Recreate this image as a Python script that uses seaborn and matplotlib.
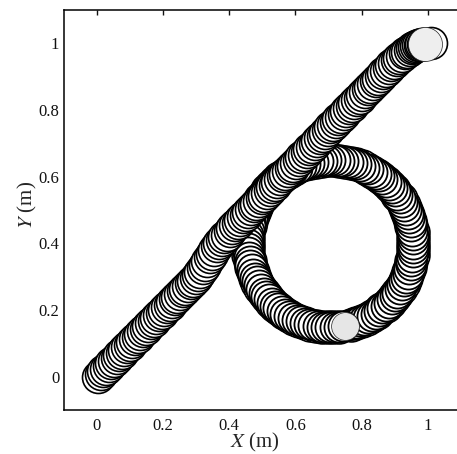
import matplotlib
matplotlib.use('Agg')
from matplotlib import pyplot as plt
import seaborn as sns

# earlier pass round the ring, only its edges show
under_x = [.767,.783,.800,.816,.831,.846,.860,.873,.886,.897,.908,.918,.927,.934,.941,.946,.950,.954,.955,.956,
           .955,.954,.950,.946,.941,.934,.927,.918,.908,.897,.886,.873,.860,.846,.831,.816,.800,.783,.767,.749,.732,.715,
           .697,.680,.663,.645,.629,.612,.596,.581,.566,.552,.539,.526,.515,.504,.494,.485,.478,.471,.466,.462,.458,.457,.456,
           .457,.458,.462,.466,.471,.478,.485,.494,.504,.515,.526,.539,.552,.566,.581,.596,.612,.629,.645,.663,.680,.697,.715,.732]
under_y = [.156,.161,.167,.174,.183,.192,.202,.213,.225,.238,.252,.267,.282,.297,.313,.330,.347,.364,.382,.399,
           .416,.434,.451,.468,.484,.501,.516,.532,.546,.560,.573,.585,.596,.606,.615,.624,.631,.637,.642,.645,.648,.649,
           .649,.648,.645,.642,.637,.631,.624,.615,.606,.596,.585,.573,.560,.546,.532,.516,.501,.484,.468,.451,.434,.416,.399,
           .382,.364,.347,.330,.313,.297,.282,.267,.252,.238,.225,.213,.202,.192,.183,.174,.167,.161,.156,.153,.150,.149,.149,.150]

# second body, loop around the ring
ring_x = [.758,.771,.783,.796,.808,.820,.831,.842,.853,.863,.873,.883,.892,.900,.908,.916,.922,.929,.934,.939,.944,.948,.950,.953,.955,.956,
          .956,.956,.955,.953,.950,.948,.944,.939,.934,.929,.922,.916,.908,.900,.892,.883,.873,.863,.853,.842,.831,.820,.808,.796,.783,.771,.758,.745,.732,.719,.706,
          .693,.680,.667,.654,.641,.629,.616,.604,.592,.581,.570,.559,.549,.539,.529,.520,.512,.504,.496,.490,.483,.478,.473,.468,.464,.462,.459,.457,.456,.456,
          .456,.457,.459,.462,.464,.468,.473,.478,.483,.490,.496,.504,.512,.520,.529,.539,.549,.559,.570,.581,.592,.604,.616,.629,.641,.654,.667,.680,.693,.706,.719,.732,.745]
ring_y = [.155,.158,.161,.166,.171,.176,.183,.189,.197,.205,.213,.222,.232,.242,.252,.263,.274,.286,.297,.309,.322,.334,.347,.360,.373,.386,
          .399,.412,.425,.438,.451,.464,.476,.489,.501,.512,.524,.535,.546,.556,.566,.576,.585,.593,.601,.609,.615,.622,.627,.632,.637,.640,.643,.646,.648,.649,.649,
          .649,.648,.646,.643,.640,.637,.632,.627,.622,.615,.609,.601,.593,.585,.576,.566,.556,.546,.535,.524,.512,.501,.489,.476,.464,.451,.438,.425,.412,.399,
          .386,.373,.360,.347,.334,.322,.309,.297,.286,.274,.263,.252,.242,.232,.222,.213,.205,.197,.189,.183,.176,.171,.166,.161,.158,.155,.152,.150,.149,.149,.149,.150,.152]

# first body, diagonal run with the kink
path_x = [.004,.012,.020,.028,.036,.044,.052,.060,.068,.076,.084,.092,.100,.108,.116,.124,.132,.140,.148,.156,.164,.172,.180,.188,.196,.204,.212,.220,.228,.236,.244,.252,.260,.268,.276,.284,.292,.300,
          .306,.313,.320,.327,.334,.341,.348,.355,.362,.370,.378,.386,.394,
          .402,.410,.418,.426,.434,.442,.450,.458,.466,.474,.482,.490,.498,.506,.514,.522,.530,.538,.546,.554,.562,.570,.578,.586,.594,.602,.610,.618,.626,.634,.642,.650,
          .658,.666,.674,.682,.690,.698,.706,.714,.722,.730,.738,.746,.754,.762,.770,.778,.786,.794,.802,.810,.818,.826,.834,.842,.850,.858,.866,.874,.882,.890,.898,.906,.914,.922,.930,.938,
          .946,.952,.958,.964,.970,.975,.980,.985,1.008,.988]
path_y = [.000,.008,.016,.024,.032,.040,.048,.056,.064,.072,.080,.088,.096,.104,.112,.120,.128,.136,.144,.152,.160,.168,.176,.184,.192,.200,.208,.216,.224,.232,.240,.248,.256,.264,.272,.280,.288,.296,
          .304,.314,.325,.336,.347,.358,.369,.380,.391,.400,.410,.418,.426,
          .436,.445,.454,.462,.470,.478,.486,.494,.503,.511,.519,.527,.535,.543,.552,.560,.568,.576,.584,.592,.601,.609,.617,.625,.633,.641,.650,.658,.666,.674,.682,.690,
          .699,.707,.715,.723,.731,.739,.748,.756,.764,.772,.780,.788,.797,.805,.813,.821,.829,.837,.846,.854,.862,.870,.878,.886,.894,.902,.910,.918,.926,.934,.941,.949,.956,.963,.970,.975,
          .981,.985,.989,.992,.994,.996,.997,.998,1.000,.998]

# final positions, drawn as grey discs
end_x = [.75, .991]
end_y = [.152, .998]
end_size = [400, 600]

xticks = [0, 0.2, 0.4, 0.6, 0.8, 1]
yticks = [0, 0.2, 0.4, 0.6, 0.8, 1]
ticklabels = ['0', '0.2', '0.4', '0.6', '0.8', '1']

sns.set_theme(style='white')
plt.rcParams['font.family'] = ['Liberation Serif', 'DejaVu Serif']
plt.rcParams['mathtext.fontset'] = 'stix'

fig = plt.figure(figsize=(4.57, 4.54), dpi=100)
ax = fig.add_axes([63.5/457, 44/454, 397.5/457, 400/454])

sns.scatterplot(x=under_x, y=under_y, s=560, color='white', edgecolor='black', linewidth=1.2, ax=ax, zorder=2)
sns.scatterplot(x=ring_x, y=ring_y, s=470, color='white', edgecolor='black', linewidth=1.3, ax=ax, zorder=2.5)
ax.scatter(end_x[0], end_y[0], s=end_size[0], color='#e6e6e6', edgecolor='#222222', linewidth=0.5, zorder=3)
sns.scatterplot(x=path_x, y=path_y, s=530, color='white', edgecolor='black', linewidth=1.2, ax=ax, zorder=4)
ax.scatter(end_x[1], end_y[1], s=end_size[1], color='#eeeeee', edgecolor='#222222', linewidth=0.5, zorder=5)

ax.set_xlim(-0.1, 1.1)
ax.set_ylim(-0.1, 1.1)
ax.set_xticks(xticks)
ax.set_xticklabels(ticklabels)
ax.set_yticks(yticks)
ax.set_yticklabels(ticklabels)
ax.tick_params(direction='in', length=3.5, width=1, top=True, right=False, labelsize=12, colors='#111111', pad=3)
ax.tick_params(axis='x', pad=6)
for s in ax.spines.values():
    s.set_visible(True)
    s.set_color('black')
    s.set_linewidth(1.1)

ax.set_xlabel('$X$ (m)', fontsize=15, labelpad=-2.5, x=0.482)
ax.set_ylabel('$Y$ (m)', fontsize=15, labelpad=-0.5, y=0.5125)

fig.savefig('out.png', dpi=100)
